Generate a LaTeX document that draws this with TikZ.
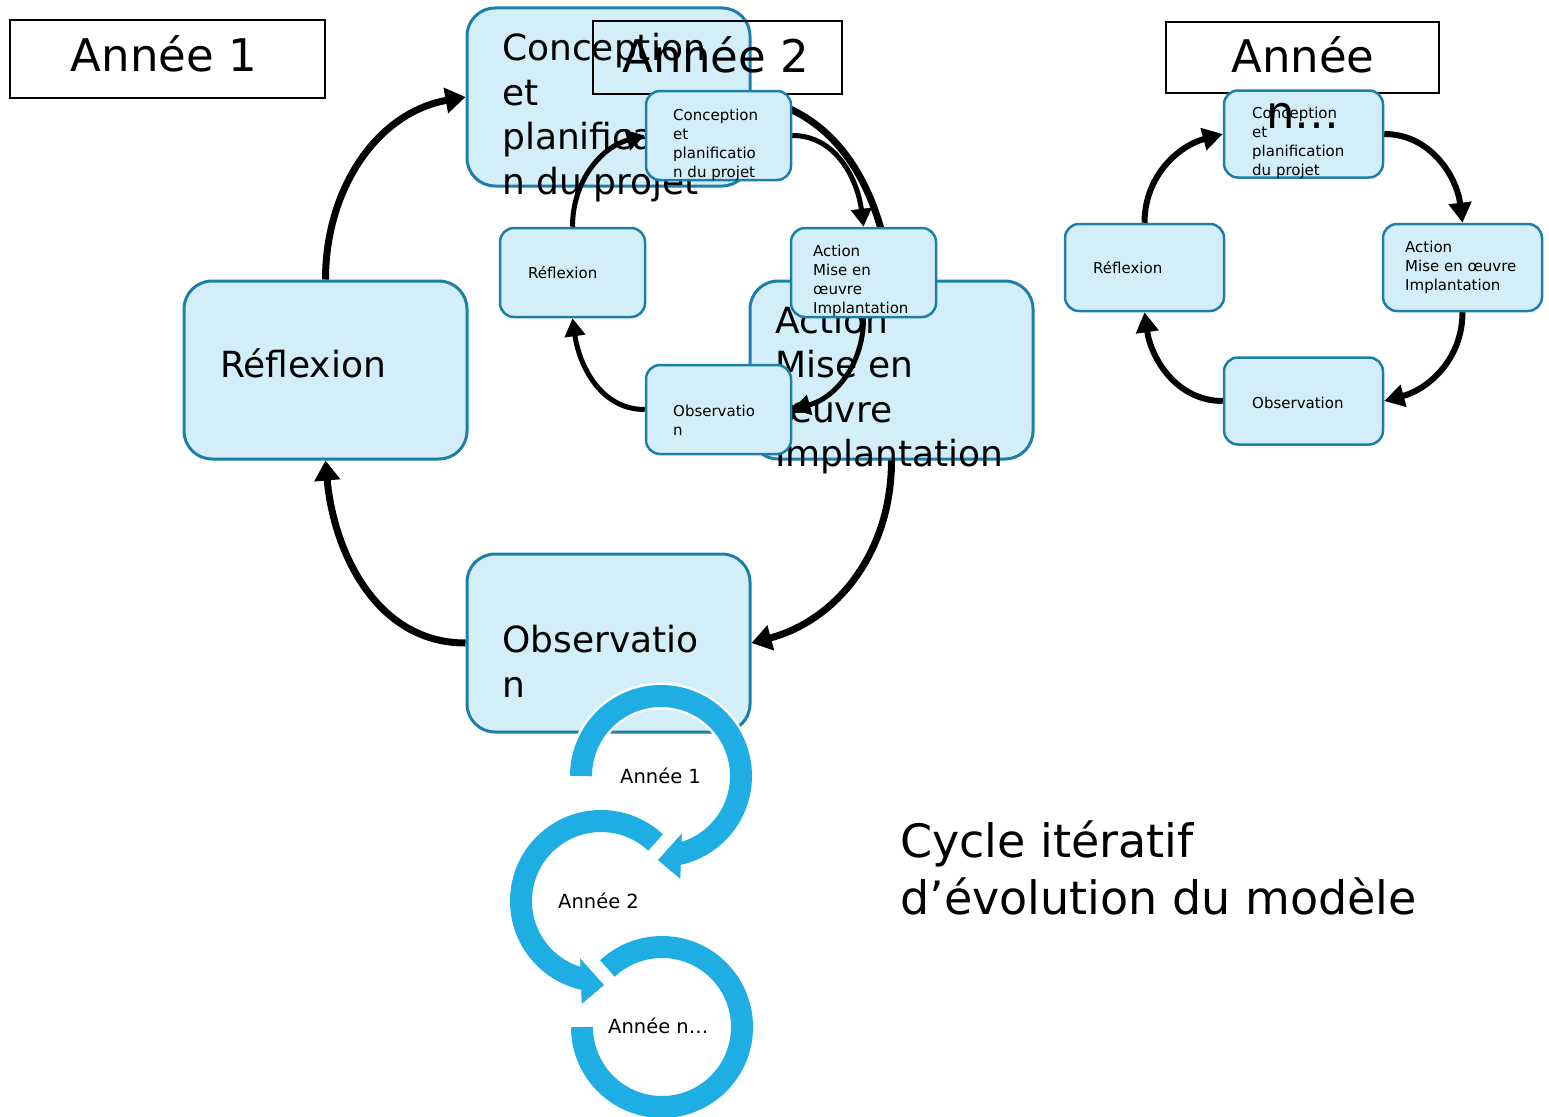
\documentclass[tikz,border=0pt]{standalone}
\usepackage{fontspec}
\setmainfont{DejaVu Sans}
\usetikzlibrary{arrows.meta}

\definecolor{boxfill}{RGB}{212,238,249}
\definecolor{boxline}{RGB}{28,127,168}
\definecolor{ringblue}{RGB}{30,174,228}

\newcommand\ringarc[5]{\draw[#5] (#1,#2) ++(#3:80) arc[start angle=#3, end angle=#4, radius=80];}
\newcommand\ringtip[4]{\filldraw[#4] #1 -- #2 -- #3 -- cycle;}

\tikzset{
  bigbox/.style={draw=boxline, fill=boxfill, line width=3pt, rounded corners=28pt,
    minimum width=283pt, minimum height=178pt, inner sep=0pt},
  smallbox/.style={draw=boxline, fill=boxfill, line width=2.5pt, rounded corners=14pt,
    minimum width=145pt, minimum height=89pt, inner sep=0pt},
  nbox/.style={smallbox, minimum width=159pt, minimum height=87pt},
  titlebox/.style={draw, line width=1.5pt, inner sep=0pt},
  bigtxt/.style={font=\fontsize{36}{44.5}\selectfont, align=left, anchor=base west, inner sep=0pt},
  smalltxt/.style={font=\fontsize{15}{19}\selectfont, align=left, anchor=base west, inner sep=0pt},
  titletxt/.style={font=\fontsize{45}{55}\selectfont, align=center, anchor=base, inner sep=0pt},
  ringtxt/.style={font=\fontsize{19.5}{24}\selectfont, anchor=base west, inner sep=0pt},
  bigarr/.style={line width=7pt, -{Triangle[length=20pt, width=25pt]}},
  smallarr/.style={line width=5pt, -{Triangle[length=18pt, width=20pt]}},
  narr/.style={line width=6pt, -{Triangle[length=20pt, width=22pt]}},
  ringback/.style={white, line width=27pt},
  ringfront/.style={ringblue, line width=22pt},
}

\begin{document}
\begin{tikzpicture}[x=1pt, y=1pt, yscale=-1]
    \useasboundingbox (0,0) rectangle (1549,1116);

    % annee 1 : big cycle
    \node[bigbox] (conc1) at (608.5,97) {};
    \node[bigbox] (refl1) at (325.5,370) {};
    \node[bigbox] (act1) at (891.5,370) {};
    \node[bigbox] (obs1) at (608.5,643) {};

    \draw[bigarr] (refl1.north) to[out=-90, in=170] (conc1.west);
    \draw[bigarr] (conc1.east) to[out=10, in=-100] (act1.north);
    \draw[bigarr] (act1.south) to[out=90, in=-15] (obs1.east);
    \draw[bigarr] (obs1.west) to[out=180, in=85] (refl1.south);

    % texts sit on the baseline of their last line
    \node[bigtxt] (conc1txt) at (502,194) {Conception\\et\\planificatio\\n du projet};
    \node[bigtxt] (refl1txt) at (220,377) {Réflexion};
    \node[bigtxt] (act1txt) at (775,466.5) {Action\\Mise en\\œuvre\\Implantation};
    \node[bigtxt] (obs1txt) at (502,697) {Observatio\\n};

    % year titles
    \node[titlebox, minimum width=315pt, minimum height=78pt] (year1) at (167.5,59) {};
    \node[titletxt] (year1txt) at (164,71) {Année 1};
    \node[titlebox, minimum width=249pt, minimum height=73pt] (year2) at (717.5,57.5) {};
    \node[titletxt] (year2txt) at (716,72) {Année 2};

    % annee 2 : small cycle
    \node[smallbox] (conc2) at (718.5,135.5) {};
    \node[smallbox] (refl2) at (572.5,272.5) {};
    \node[smallbox] (act2) at (863.5,272.5) {};
    \node[smallbox] (obs2) at (718.5,409.5) {};

    \draw[smallarr] (refl2.north) to[out=-90, in=165] (conc2.west);
    \draw[smallarr] (conc2.east) to[out=0, in=-97] (act2.north);
    \draw[smallarr] (act2.south) to[out=90, in=-15] (obs2.east);
    \draw[smallarr] (obs2.west) to[out=180, in=82] (refl2.south);

    \node[smalltxt] (conc2txt) at (673,177) {Conception\\et\\planificatio\\n du projet};
    \node[smalltxt] (refl2txt) at (528,278) {Réflexion};
    \node[smalltxt] (act2txt) at (813,313) {Action\\Mise en\\œuvre\\Implantation};
    \node[smalltxt] (obs2txt) at (673,435) {Observatio\\n};

    % annee n
    \node[titlebox, minimum width=273pt, minimum height=71pt] (yearn) at (1302.5,57.5) {};
    \node[nbox] (concn) at (1303.5,134) {};
    \node[nbox] (refln) at (1144.5,267.5) {};
    \node[nbox] (actn) at (1462.5,267.5) {};
    \node[nbox] (obsn) at (1303.5,401) {};

    \draw[narr] (refln.north) to[out=-90, in=165] (concn.west);
    \draw[narr] (concn.east) to[out=0, in=-97] (actn.north);
    \draw[narr] (actn.south) to[out=90, in=-15] (obsn.east);
    \draw[narr] (obsn.west) to[out=180, in=82] (refln.south);

    \node[smalltxt] (concntxt) at (1252,175) {Conception\\et\\planification\\du projet};
    \node[smalltxt] (reflntxt) at (1093,273) {Réflexion};
    \node[smalltxt] (actntxt) at (1405,290) {Action\\Mise en œuvre\\Implantation};
    \node[smalltxt] (obsntxt) at (1252,408) {Observation};
    \node[titletxt] (yearntxt) at (1303,128) {Année\\n…};

    % rings : annee 1 -> annee 2 -> annee n
    \ringarc{661}{776}{180}{438}{ringback}
    \ringtip{(681.7,834)}{(680,878.3)}{(658.3,860)}{white, line width=5pt}
    \ringarc{661}{776}{180}{438}{ringfront}
    \ringtip{(681.7,834)}{(680,878.3)}{(658.3,860)}{ringblue}

    \ringarc{601}{901}{-47}{-258}{ringback}
    \ringtip{(580.3,959)}{(582,1003.3)}{(603.7,985)}{white, line width=5pt}
    \ringarc{601}{901}{-47}{-258}{ringfront}
    \ringtip{(580.3,959)}{(582,1003.3)}{(603.7,985)}{ringblue}

    \ringarc{662}{1027}{-133}{180}{ringback}
    \ringarc{662}{1027}{-133}{180}{ringfront}

    \node[ringtxt] (ring1txt) at (620,783) {Année 1};
    \node[ringtxt] (ring2txt) at (558,908) {Année 2};
    \node[ringtxt] (ringntxt) at (608,1033) {Année n…};

    % caption
    \node[anchor=base west, align=left, inner sep=0pt, font=\fontsize{46}{57}\selectfont]
        (caption) at (900,914) {Cycle itératif\\d’évolution du modèle};
\end{tikzpicture}
\end{document}
